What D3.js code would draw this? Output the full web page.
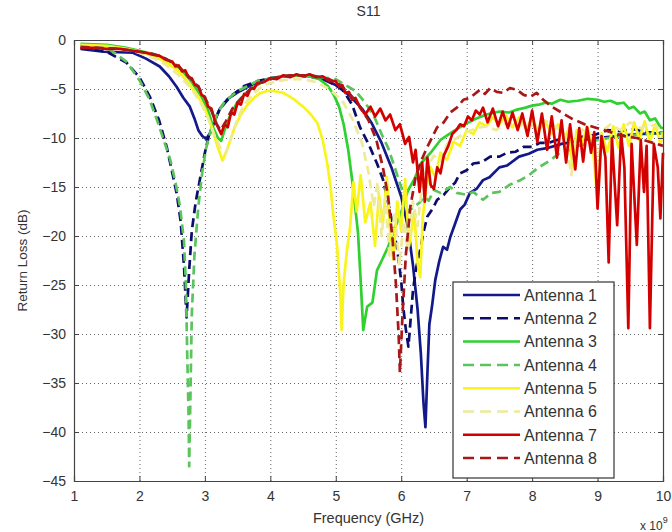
<!DOCTYPE html>
<html>
<head>
<meta charset="utf-8">
<script src="https://cdn.jsdelivr.net/npm/d3@7"></script>
<style>
  body { margin: 0; background: #fff; }
  text { font-family: "Liberation Sans", Arial, sans-serif; fill: #333; }
</style>
</head>
<body>
<div id="chart"></div>
<script>
// values (frequency in GHz, return loss in dB)
const freqTicks = [1, 2, 3, 4, 5, 6, 7, 8, 9, 10];
const dbTicks = [0, -5, -10, -15, -20, -25, -30, -35, -40, -45];
const antennaNames = ["Antenna 1", "Antenna 2", "Antenna 3", "Antenna 4",
                      "Antenna 5", "Antenna 6", "Antenna 7", "Antenna 8"];

const ant1 = [[1.1,-0.9],[1.45,-1.2],[1.9,-1.3],[2.1,-1.9],[2.31,-2.7],[2.45,-3.7],[2.57,-4.8],[2.67,-5.9],[2.77,-6.8],[2.84,-8.0],[2.9,-9.2],[2.96,-9.8],[3.02,-10.1],[3.08,-9.5],[3.15,-8.2],[3.23,-7.0],[3.35,-6.0],[3.49,-5.4],[3.65,-4.8],[3.8,-4.3],[4.0,-3.9],[4.2,-3.7],[4.4,-3.6],[4.6,-3.7],[4.8,-4.0],[5.0,-4.6],[5.2,-5.6],[5.4,-7.0],[5.55,-8.5],[5.7,-10.5],[5.85,-13.0],[6.0,-16.0],[6.1,-19.0],[6.18,-23.0],[6.25,-27.5],[6.3,-32.0],[6.34,-37.0],[6.37,-39.5],[6.4,-34.0],[6.43,-29.0],[6.47,-27.2],[6.52,-24.5],[6.58,-22.6],[6.64,-21.1],[6.7,-21.4],[6.75,-20.1],[6.82,-18.8],[6.9,-17.3],[6.97,-16.8],[7.05,-15.6],[7.15,-15.2],[7.25,-14.3],[7.35,-14.0],[7.5,-13.0],[7.62,-12.8],[7.8,-11.9],[7.95,-11.6],[8.08,-11.2],[8.25,-11.0],[8.45,-10.6],[8.7,-10.3],[9.0,-10.0],[9.3,-9.8],[9.6,-9.6],[10.0,-9.5]];

const ant2 = [[1.1,-0.8],[1.5,-1.2],[1.8,-2.3],[2.0,-3.8],[2.16,-5.8],[2.3,-8.2],[2.42,-11.0],[2.5,-13.5],[2.57,-15.7],[2.63,-18.5],[2.68,-23.0],[2.72,-28.3],[2.76,-23.5],[2.8,-19.5],[2.86,-16.5],[2.93,-14.0],[3.0,-11.5],[3.06,-9.8],[3.14,-8.4],[3.23,-7.0],[3.4,-5.7],[3.6,-4.7],[3.8,-4.2],[4.0,-3.9],[4.4,-3.6],[4.8,-3.9],[5.1,-5.0],[5.25,-6.6],[5.37,-8.9],[5.5,-10.6],[5.63,-12.6],[5.72,-14.2],[5.79,-16.3],[5.87,-18.8],[5.94,-21.4],[6.0,-24.6],[6.03,-27.2],[6.07,-29.5],[6.11,-31.3],[6.15,-28.0],[6.18,-25.5],[6.23,-23.2],[6.29,-21.4],[6.34,-19.6],[6.4,-18.0],[6.48,-17.2],[6.55,-16.3],[6.65,-15.8],[6.75,-15.0],[6.82,-14.6],[6.9,-13.6],[7.0,-13.3],[7.1,-12.6],[7.22,-12.5],[7.36,-11.9],[7.5,-11.9],[7.62,-11.5],[7.75,-11.4],[7.87,-10.9],[8.0,-10.9],[8.12,-10.5],[8.25,-10.5],[8.38,-10.2],[8.55,-10.2],[8.74,-9.9],[8.95,-9.7],[9.15,-9.2],[9.35,-9.3],[9.55,-9.1],[9.75,-9.4],[10.0,-9.5]];

const ant3 = [[1.1,-0.4],[1.5,-0.5],[1.8,-0.8],[2.0,-1.1],[2.3,-1.6],[2.5,-2.3],[2.65,-3.1],[2.8,-4.3],[2.95,-5.8],[3.05,-7.2],[3.13,-9.0],[3.2,-10.0],[3.25,-10.3],[3.3,-9.2],[3.38,-7.8],[3.5,-6.3],[3.6,-5.6],[3.7,-5.0],[3.85,-4.4],[4.0,-3.9],[4.2,-3.7],[4.4,-3.6],[4.6,-3.7],[4.75,-4.0],[4.88,-4.7],[4.97,-5.6],[5.05,-6.8],[5.12,-8.6],[5.19,-11.2],[5.26,-14.8],[5.34,-19.7],[5.38,-24.5],[5.42,-29.6],[5.48,-27.2],[5.56,-26.8],[5.63,-23.5],[5.71,-22.4],[5.8,-21.1],[5.9,-19.2],[6.0,-17.6],[6.1,-15.4],[6.2,-14.2],[6.3,-12.6],[6.45,-11.5],[6.6,-10.2],[6.8,-9.3],[7.0,-8.5],[7.15,-8.0],[7.3,-7.6],[7.5,-7.3],[7.65,-7.4],[7.77,-7.1],[7.9,-6.9],[8.0,-6.7],[8.1,-6.6],[8.2,-6.4],[8.3,-6.5],[8.43,-6.1],[8.55,-6.3],[8.7,-6.2],[8.85,-6.0],[9.0,-6.1],[9.1,-6.3],[9.2,-6.2],[9.3,-6.5],[9.4,-6.4],[9.48,-7.0],[9.55,-6.8],[9.65,-7.5],[9.72,-7.3],[9.8,-8.2],[9.88,-8.0],[9.96,-8.9],[10.0,-9.0]];

const ant4 = [[1.1,-0.5],[1.3,-0.7],[1.55,-1.0],[1.8,-2.2],[2.0,-4.1],[2.15,-6.0],[2.27,-8.2],[2.37,-10.2],[2.47,-12.2],[2.55,-14.5],[2.62,-17.0],[2.68,-20.5],[2.71,-25.0],[2.73,-32.0],[2.75,-38.0],[2.76,-43.5],[2.78,-36.0],[2.8,-28.0],[2.84,-22.0],[2.9,-17.0],[2.96,-13.5],[3.02,-11.0],[3.1,-9.0],[3.2,-7.4],[3.3,-6.3],[3.5,-5.2],[3.8,-4.2],[4.2,-3.7],[4.6,-3.6],[5.0,-4.0],[5.3,-5.2],[5.45,-6.4],[5.6,-8.0],[5.7,-9.6],[5.8,-11.0],[5.9,-13.0],[6.0,-15.0],[6.1,-17.5],[6.2,-17.0],[6.28,-16.6],[6.35,-16.0],[6.42,-16.4],[6.5,-15.3],[6.6,-15.6],[6.75,-15.0],[6.85,-15.6],[7.0,-15.8],[7.1,-15.5],[7.25,-16.3],[7.38,-15.6],[7.5,-15.5],[7.65,-14.8],[7.82,-14.3],[7.95,-13.8],[8.1,-13.0],[8.25,-12.4],[8.43,-11.5],[8.53,-11.4],[8.63,-11.0],[8.8,-10.6],[9.0,-10.2],[9.25,-9.9],[9.5,-9.7],[9.75,-9.6],[10.0,-9.5]];

const ant5 = [[1.1,-0.5],[1.5,-0.6],[1.8,-0.9],[2.0,-1.2],[2.2,-1.6],[2.4,-2.2],[2.6,-3.2],[2.75,-4.4],[2.9,-5.8],[3.0,-7.0],[3.1,-8.8],[3.2,-11.0],[3.27,-12.3],[3.35,-11.0],[3.45,-9.0],[3.55,-7.6],[3.65,-6.6],[3.75,-5.9],[3.85,-5.4],[3.95,-5.2],[4.05,-5.2],[4.2,-5.4],[4.35,-6.0],[4.5,-6.8],[4.62,-7.6],[4.72,-8.5],[4.8,-10.2],[4.87,-12.6],[4.92,-15.0],[4.96,-17.7],[5.02,-21.0],[5.07,-26.0],[5.09,-29.6],[5.12,-24.8],[5.17,-21.5],[5.22,-19.0],[5.27,-14.5],[5.32,-17.5],[5.38,-13.8],[5.45,-18.6],[5.53,-16.6],[5.6,-21.0],[5.66,-15.8],[5.72,-18.7],[5.78,-14.0],[5.84,-20.5],[5.88,-22.4],[5.94,-16.5],[6.0,-19.5],[6.06,-14.2],[6.12,-21.0],[6.2,-17.5],[6.25,-22.8],[6.29,-24.2],[6.33,-18.0],[6.38,-15.2],[6.45,-13.0],[6.52,-14.0],[6.6,-11.5],[6.7,-12.2],[6.8,-10.4],[6.9,-10.8],[7.0,-9.2],[7.1,-9.6],[7.2,-8.4],[7.3,-8.8],[7.4,-7.9],[7.5,-8.6],[7.6,-7.7],[7.7,-8.9],[7.8,-7.9],[7.9,-9.0],[8.0,-8.1],[8.1,-9.3],[8.2,-8.3],[8.3,-9.6],[8.4,-8.6],[8.5,-10.2],[8.56,-9.0],[8.62,-13.2],[8.68,-9.2],[8.76,-10.6],[8.84,-8.8],[8.92,-10.4],[9.0,-16.5],[9.06,-9.5],[9.15,-11.4],[9.24,-8.8],[9.32,-11.0],[9.4,-8.6],[9.48,-10.8],[9.56,-8.4],[9.64,-10.2],[9.72,-8.3],[9.8,-10.4],[9.88,-8.6],[9.96,-10.6],[10.0,-9.4]];

const ant6 = [[1.1,-0.6],[1.5,-0.7],[1.8,-1.0],[2.0,-1.3],[2.2,-1.8],[2.4,-2.5],[2.6,-3.6],[2.8,-5.0],[2.95,-6.6],[3.05,-8.0],[3.15,-9.8],[3.25,-11.2],[3.32,-11.6],[3.4,-10.0],[3.5,-8.0],[3.6,-6.6],[3.75,-5.4],[3.9,-4.6],[4.1,-4.2],[4.3,-4.0],[4.5,-4.0],[4.7,-4.3],[4.9,-5.0],[5.1,-6.2],[5.25,-8.0],[5.4,-10.5],[5.5,-13.5],[5.58,-17.0],[5.64,-14.5],[5.7,-20.0],[5.76,-16.0],[5.82,-22.0],[5.9,-17.5],[5.97,-23.0],[6.04,-18.5],[6.1,-21.5],[6.18,-16.5],[6.25,-19.0],[6.32,-14.5],[6.4,-13.0],[6.5,-11.8],[6.6,-12.4],[6.7,-10.6],[6.85,-10.0],[7.0,-9.4],[7.15,-9.0],[7.3,-8.8],[7.45,-9.2],[7.6,-8.5],[7.75,-9.0],[7.9,-8.4],[8.05,-8.9],[8.2,-8.2],[8.35,-8.8],[8.5,-9.6],[8.6,-13.8],[8.66,-10.0],[8.8,-9.0],[8.95,-10.2],[9.0,-14.0],[9.05,-9.4],[9.2,-8.6],[9.35,-9.2],[9.5,-8.4],[9.65,-9.0],[9.8,-8.6],[10.0,-9.2]];

const ant7 = [[1.1,-0.8],[1.3,-0.8],[1.5,-0.9],[1.7,-0.9],[1.9,-1.1],[2.0,-1.2],[2.1,-1.3],[2.2,-1.5],[2.3,-1.6],[2.4,-2.0],[2.5,-2.2],[2.55,-2.7],[2.6,-2.6],[2.65,-3.2],[2.7,-3.1],[2.75,-3.8],[2.8,-3.9],[2.85,-4.6],[2.9,-4.7],[2.95,-5.6],[3.0,-5.8],[3.05,-6.8],[3.1,-7.0],[3.15,-8.2],[3.2,-8.9],[3.25,-9.6],[3.3,-8.6],[3.35,-8.9],[3.4,-7.4],[3.45,-7.6],[3.5,-6.4],[3.55,-6.6],[3.6,-5.5],[3.65,-5.7],[3.7,-4.9],[3.75,-5.0],[3.8,-4.4],[3.9,-4.3],[4.0,-3.9],[4.1,-4.0],[4.2,-3.6],[4.3,-3.8],[4.4,-3.5],[4.5,-3.7],[4.6,-3.5],[4.7,-3.8],[4.8,-3.7],[4.9,-4.2],[5.0,-4.2],[5.05,-4.8],[5.1,-4.6],[5.15,-5.4],[5.2,-5.3],[5.25,-6.1],[5.3,-5.9],[5.37,-6.9],[5.45,-7.6],[5.53,-6.8],[5.6,-7.8],[5.68,-7.0],[5.76,-8.2],[5.83,-7.6],[5.91,-9.2],[5.98,-8.6],[6.06,-10.6],[6.12,-9.9],[6.18,-12.5],[6.22,-11.2],[6.28,-15.5],[6.32,-12.5],[6.36,-16.5],[6.4,-12.0],[6.45,-14.8],[6.5,-15.2],[6.55,-13.0],[6.6,-13.6],[6.65,-11.8],[6.72,-10.8],[6.78,-9.6],[6.84,-9.2],[6.9,-8.6],[6.96,-8.8],[7.02,-7.8],[7.08,-8.2],[7.14,-7.2],[7.2,-7.6],[7.25,-6.9],[7.32,-8.4],[7.4,-7.0],[7.48,-8.8],[7.55,-7.3],[7.63,-9.0],[7.7,-7.4],[7.78,-9.2],[7.85,-7.5],[7.93,-9.8],[8.0,-7.2],[8.08,-10.4],[8.15,-7.5],[8.23,-11.2],[8.3,-7.8],[8.38,-12.0],[8.45,-8.2],[8.52,-12.5],[8.58,-8.6],[8.66,-13.2],[8.72,-9.0],[8.78,-12.4],[8.84,-8.9],[8.9,-11.5],[8.95,-9.4],[9.0,-17.2],[9.06,-9.8],[9.12,-12.0],[9.17,-22.7],[9.22,-10.0],[9.3,-18.9],[9.36,-9.6],[9.41,-13.0],[9.47,-29.4],[9.52,-10.6],[9.6,-20.9],[9.66,-10.2],[9.71,-15.5],[9.75,-10.8],[9.8,-29.4],[9.86,-10.6],[9.92,-13.0],[9.96,-18.2],[10.0,-11.5]];

const ant8 = [[1.1,-0.7],[1.4,-0.8],[1.7,-0.9],[2.0,-1.2],[2.2,-1.4],[2.4,-1.9],[2.6,-2.7],[2.75,-3.7],[2.9,-4.8],[3.0,-5.9],[3.1,-7.2],[3.18,-8.6],[3.24,-9.2],[3.32,-8.3],[3.42,-7.0],[3.55,-6.0],[3.68,-5.1],[3.8,-4.5],[3.95,-4.1],[4.1,-3.8],[4.3,-3.6],[4.5,-3.6],[4.7,-3.7],[4.9,-4.0],[5.05,-4.5],[5.2,-5.4],[5.35,-6.6],[5.5,-8.2],[5.62,-10.2],[5.72,-13.0],[5.8,-16.0],[5.87,-20.5],[5.92,-25.0],[5.96,-30.0],[5.98,-33.9],[6.02,-28.0],[6.07,-22.0],[6.14,-17.0],[6.22,-14.0],[6.3,-12.4],[6.4,-10.9],[6.55,-8.9],[6.65,-8.4],[6.75,-7.4],[6.85,-6.9],[6.95,-6.1],[7.05,-5.9],[7.2,-5.1],[7.28,-5.5],[7.36,-4.9],[7.46,-5.3],[7.56,-5.4],[7.66,-4.9],[7.77,-5.1],[7.87,-5.6],[7.97,-5.8],[8.07,-5.4],[8.17,-6.1],[8.3,-6.8],[8.45,-7.4],[8.6,-8.0],[8.8,-8.6],[9.0,-9.0],[9.2,-9.4],[9.4,-9.8],[9.6,-10.0],[9.8,-10.4],[10.0,-10.8]];

const series = [ant1, ant2, ant3, ant4, ant5, ant6, ant7, ant8];

// drawing styles, one per antenna
const lineColors = ["#14198a", "#0c0c6a", "#2fd02f", "#5cc45c", "#f8f41c", "#eeea9a", "#d40000", "#a81818"];
const lineDash = [null, "9,5", null, "9,5", null, "9,5", null, "9,5"];

var W = 672, H = 532;
var margin = {top: 40, right: 9, bottom: 51, left: 74},
    width = W - margin.left - margin.right,
    height = H - margin.top - margin.bottom;

var svg = d3.select("#chart").append("svg")
    .attr("width", W)
    .attr("height", H);

var g = svg.append("g")
    .attr("transform", "translate(" + margin.left + "," + margin.top + ")");

var x = d3.scaleLinear().domain([1, 10]).range([0, width]);
var y = d3.scaleLinear().domain([0, -45]).range([0, height]);

// dotted grid
g.append("g").selectAll("line.gx")
  .data(freqTicks.slice(1, -1))
  .enter().append("line")
    .attr("x1", d => x(d) + 0.5).attr("x2", d => x(d) + 0.5)
    .attr("y1", 0).attr("y2", height)
    .attr("stroke", "#666").attr("stroke-dasharray", "1,3");
g.append("g").selectAll("line.gy")
  .data(dbTicks.slice(1, -1))
  .enter().append("line")
    .attr("y1", d => y(d) + 0.5).attr("y2", d => y(d) + 0.5)
    .attr("x1", 0).attr("x2", width)
    .attr("stroke", "#666").attr("stroke-dasharray", "1,3");

// curves, drawn in order so antenna 8 ends up on top
var line = d3.line()
  .x(d => x(d[0]))
  .y(d => y(d[1]));

g.append("g").selectAll("path")
  .data(series)
  .enter().append("path")
    .attr("d", line)
    .attr("fill", "none")
    .attr("stroke", (d, i) => lineColors[i])
    .attr("stroke-width", 2.7)
    .attr("stroke-linejoin", "round")
    .attr("stroke-dasharray", (d, i) => lineDash[i]);

// axes: ticks pointing inside, box all round
var xAxis = d3.axisBottom(x).tickValues(freqTicks).tickSize(-5).tickPadding(10).tickFormat(d3.format("d"));
var yAxis = d3.axisLeft(y).tickValues(dbTicks).tickSize(-5).tickPadding(8).tickFormat(d3.format("d"));

var gx = g.append("g").attr("transform", "translate(0," + height + ")").call(xAxis);
var gy = g.append("g").call(yAxis);
g.append("g").call(d3.axisTop(x).tickValues(freqTicks).tickSize(-5).tickFormat(""));
g.append("g").attr("transform", "translate(" + width + ",0)")
  .call(d3.axisRight(y).tickValues(dbTicks).tickSize(-5).tickFormat(""));

g.selectAll(".domain").attr("stroke", "#444").attr("stroke-width", 1.2);
g.selectAll(".tick line").attr("stroke", "#444");
[gx, gy].forEach(a => a.selectAll("text")
  .style("font-size", "14px")
  .style("font-family", "Liberation Sans, Arial, sans-serif")
  .attr("fill", "#333"));

// legend
var legend = g.append("g").attr("transform", "translate(" + (453 - margin.left) + "," + (282 - margin.top) + ")");
legend.append("rect")
  .attr("width", 161).attr("height", 196)
  .attr("fill", "#fff").attr("stroke", "#333").attr("stroke-width", 1.2);

var item = legend.selectAll("g.item")
  .data(antennaNames)
  .enter().append("g")
    .attr("transform", (d, i) => "translate(0," + (13 + i * 23.3) + ")");
item.append("line")
  .attr("x1", 10).attr("x2", 67)
  .attr("stroke", (d, i) => lineColors[i])
  .attr("stroke-width", 2.5)
  .attr("stroke-dasharray", (d, i) => lineDash[i] ? "11,6" : null);
item.append("text")
  .attr("x", 71).attr("dy", "0.36em")
  .style("font-size", "16px")
  .text(d => d);

// titles
svg.append("text").attr("x", margin.left + width / 2).attr("y", 16)
  .attr("text-anchor", "middle").style("font-size", "14px").text("S11");
svg.append("text").attr("x", margin.left + width / 2).attr("y", 523)
  .attr("text-anchor", "middle").style("font-size", "14.5px").text("Frequency (GHz)");
svg.append("text")
  .attr("transform", "translate(27," + (margin.top + height / 2) + ") rotate(-90)")
  .attr("text-anchor", "middle").style("font-size", "13.5px").text("Return Loss (dB)");

var expo = svg.append("text").attr("x", 640).attr("y", 530).style("font-size", "12px");
expo.append("tspan").text("x 10");
expo.append("tspan").attr("dy", -7).style("font-size", "9px").text("9");
</script>
</body>
</html>
